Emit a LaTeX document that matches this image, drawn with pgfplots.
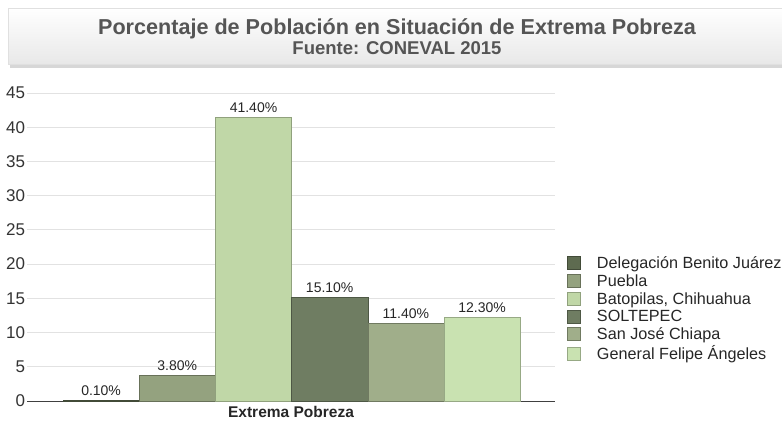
\documentclass[border=0pt]{standalone}
\usepackage{pgfplots}
\pgfplotsset{compat=1.18}
\usepackage{fontspec}
\setmainfont{Liberation Sans}
\definecolor{cA}{HTML}{5E6B50}
\definecolor{cB}{HTML}{94A27F}
\definecolor{cC}{HTML}{C0D7A7}
\definecolor{cD}{HTML}{6F7D62}
\definecolor{cE}{HTML}{A0AE8A}
\definecolor{cF}{HTML}{C9E2B1}
\definecolor{titlegray}{HTML}{555555}
\definecolor{gridgray}{HTML}{E2E2E2}
\begin{document}
\begin{tikzpicture}[x=1bp,y=1bp]
\path[use as bounding box] (0,0) rectangle (782,421);
% title box
\fill[black!45,opacity=0.35] (10,353) rectangle (782,360);
\shade[top color=white,bottom color=black!9,draw=black!12] (8,357) rectangle (790,413);
\node[font=\fontsize{21.6bp}{24bp}\selectfont\bfseries,text=titlegray] at (397,392) {Porcentaje de Población en Situación de Extrema Pobreza};
\node[font=\fontsize{18.5bp}{20bp}\selectfont\bfseries,text=titlegray] at (397,373) {Fuente: CONEVAL 2015};
\begin{axis}[
  at={(27bp,20bp)}, anchor=south west,
  scale only axis, width=528bp, height=308bp,
  xmin=0, xmax=528, ymin=0, ymax=45,
  ytick={0,5,...,45},
  xtick={264}, xticklabels={Extrema Pobreza},
  x tick label style={font=\fontsize{15.5bp}{17bp}\selectfont\bfseries, text=black!85, yshift=-2bp},
  y tick label style={font=\fontsize{17bp}{19bp}\selectfont, text=black!80, xshift=1.5bp},
  /pgf/number format/assume math mode=true,
  major tick length=0pt,
  ymajorgrids, grid style={gridgray, line width=0.8bp},
  axis x line*=bottom, axis y line*=left,
  y axis line style={draw=none},
  x axis line style={black!75, line width=1bp, -},
  ybar, bar width=76.2, bar shift=0pt,
  nodes near coords={\pgfmathprintnumber[fixed,fixed zerofill,precision=2]{\pgfplotspointmeta}\%},
  every node near coord/.append style={font=\fontsize{14bp}{16bp}\selectfont, text=black!85, yshift=1bp},
  legend style={at={(axis description cs:1.0227,0.476)}, anchor=north west, draw=none, fill=none,
     font=\fontsize{16.2bp}{18bp}\selectfont, text=black!85, inner sep=0pt,
     row sep=0.6bp, /tikz/every odd column/.append style={column sep=14bp}},
  legend cell align=left,
  legend image code/.code={\draw[#1,line width=0.8bp] (0bp,-6.5bp) rectangle (13bp,6.5bp);},
]
\addplot[fill=cA, draw=cA!70!black] coordinates {(74.1,0.1)};
\addlegendentry{Delegación Benito Juárez}
\addplot[fill=cB, draw=cB!70!black] coordinates {(150.3,3.8)};
\addlegendentry{Puebla}
\addplot[fill=cC, draw=cC!75!black] coordinates {(226.5,41.4)};
\addlegendentry{Batopilas, Chihuahua}
\addplot[fill=cD, draw=cD!70!black] coordinates {(302.7,15.1)};
\addlegendentry{SOLTEPEC}
\addplot[fill=cE, draw=cE!70!black] coordinates {(378.9,11.4)};
\addlegendentry{San José Chiapa}
\addplot[fill=cF, draw=cF!75!black] coordinates {(455.1,12.3)};
\addlegendentry{General Felipe Ángeles}
\end{axis}
\end{tikzpicture}
\end{document}
